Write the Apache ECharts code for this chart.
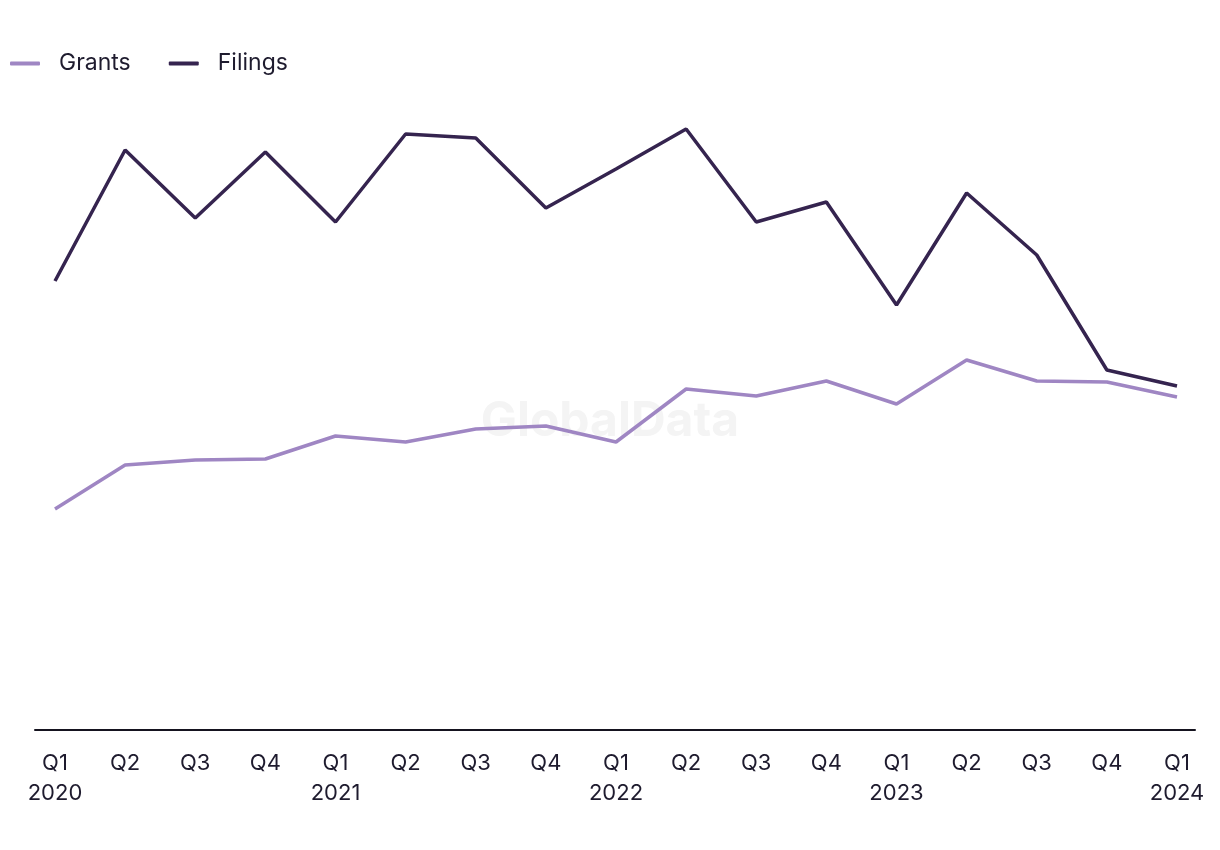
<!DOCTYPE html>
<html>
<head>
<meta charset="utf-8">
<script src="https://cdn.jsdelivr.net/npm/echarts@6/dist/echarts.min.js"></script>
<style>html,body{margin:0;padding:0;background:#fff}#c{width:1220px;height:850px}</style>
</head>
<body>
<div id="c"></div>
<script>
const categories = ['Q1\n2020','Q2','Q3','Q4','Q1\n2021','Q2','Q3','Q4','Q1\n2022','Q2','Q3','Q4','Q1\n2023','Q2','Q3','Q4','Q1\n2024'];
const grants = [221, 265, 270, 271, 294, 288, 301, 304, 288, 341, 334, 349, 326, 370, 349, 348, 333];
const filings = [449, 580, 512, 578, 508, 596, 592, 522, 561, 601, 508, 528, 425, 537, 475, 360, 344];

const font = 'Inter, "Noto Sans", sans-serif';
const chart = echarts.init(document.getElementById('c'));
chart.setOption({
  animation: false,
  backgroundColor: '#ffffff',
  graphic: [{
    type: 'text', left: 'center', top: 398, z: 0,
    style: { text: 'GlobalData', fontSize: 48, fontWeight: 'bold', fontFamily: font, fill: '#f4f4f4' }
  }],
  legend: {
    left: 5, top: 47, itemWidth: 30, itemHeight: 4, itemGap: 38, icon: 'roundRect',
    textStyle: { fontSize: 23, color: '#1e1b2e', fontFamily: font, padding: [0,0,0,14] },
    data: ['Grants', 'Filings']
  },
  grid: [
    { left: 55, right: 43, top: 30, bottom: 120 },
    { left: 35, right: 25, top: 30, bottom: 120 }
  ],
  xAxis: [{
    type: 'category', data: categories, boundaryGap: false, gridIndex: 0,
    axisLine: { show: false }, axisTick: { show: false },
    axisLabel: { fontSize: 22, lineHeight: 30, color: '#1e1b2e', fontFamily: font, margin: 18, interval: 0 }
  }, {
    type: 'value', gridIndex: 1, min: 0, max: 1,
    axisLine: { show: true, lineStyle: { color: '#15131f', width: 2 } },
    axisTick: { show: false }, axisLabel: { show: false }, splitLine: { show: false }
  }],
  yAxis: [{
    type: 'value', min: 0, max: 700, gridIndex: 0, show: false
  }, {
    type: 'value', min: 0, max: 1, gridIndex: 1, show: false
  }],
  series: [{
    name: 'Grants', type: 'line', data: grants, symbol: 'none', z: 3,
    lineStyle: { color: '#9f86c3', width: 3.5 }, itemStyle: { color: '#9f86c3' }
  }, {
    name: 'Filings', type: 'line', data: filings, symbol: 'none', z: 4,
    lineStyle: { color: '#35244f', width: 3.5 }, itemStyle: { color: '#35244f' }
  }]
});
</script>
</body>
</html>
